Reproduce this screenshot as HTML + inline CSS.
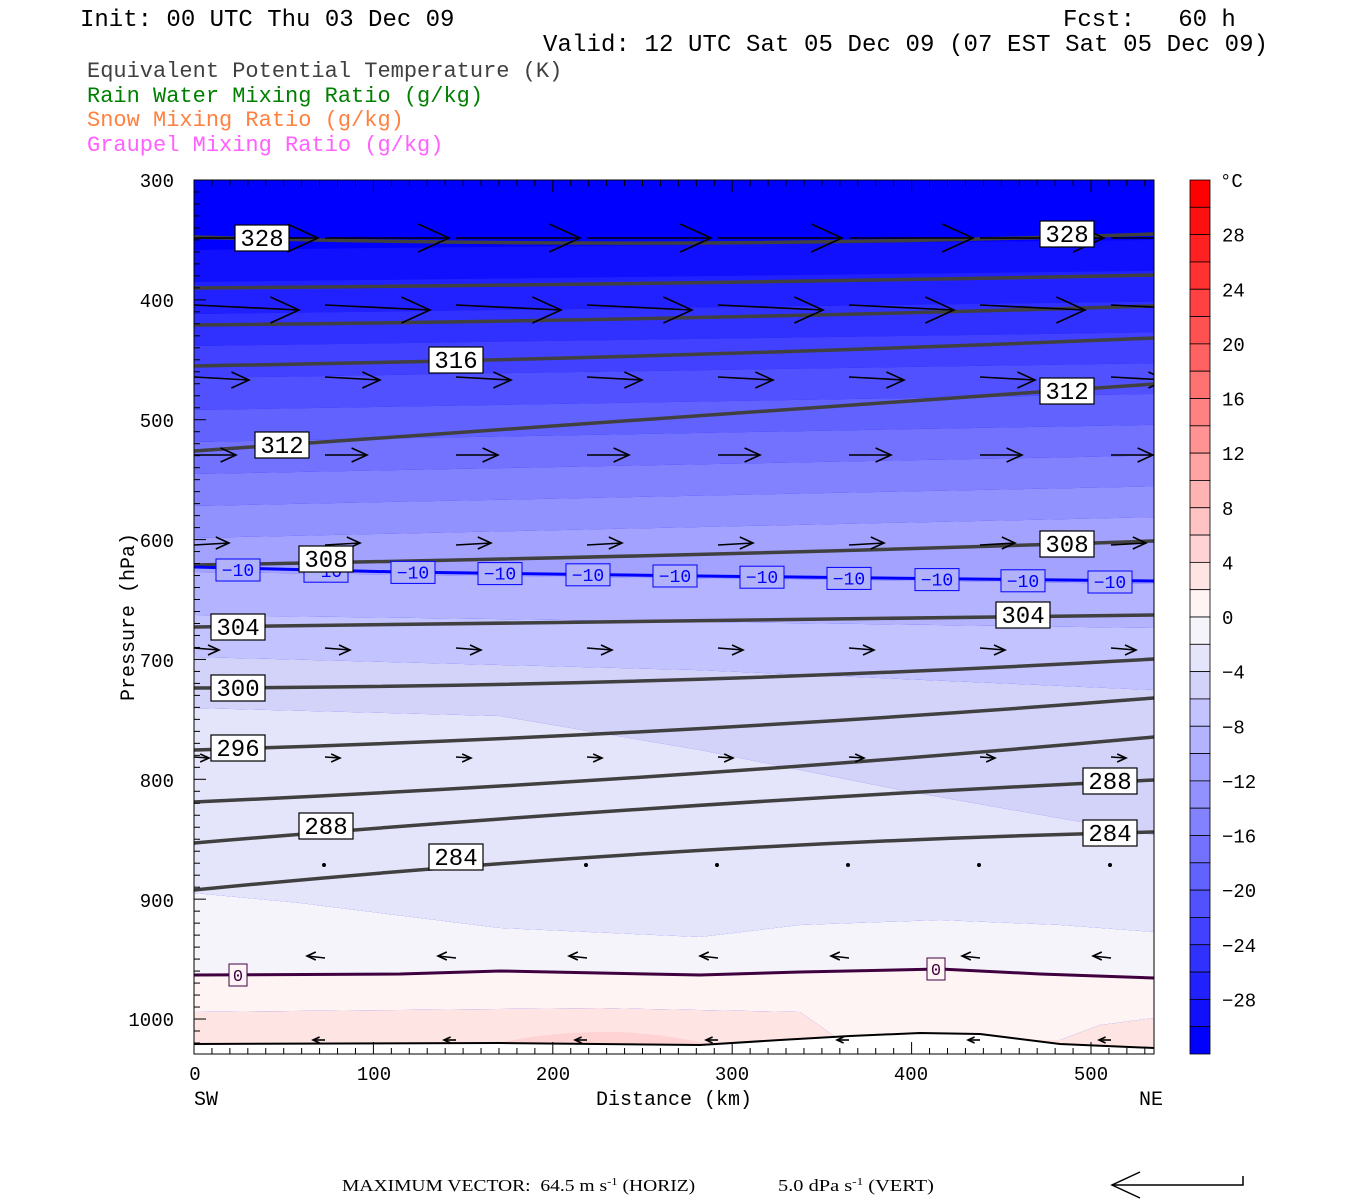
<!DOCTYPE html>
<html><head><meta charset="utf-8"><style>
html,body{margin:0;padding:0;background:#fff;width:1350px;height:1200px;overflow:hidden}
svg text{font-family:"Liberation Mono",monospace;white-space:pre}
</style></head><body>
<svg id="s" xmlns="http://www.w3.org/2000/svg" width="1350" height="1200" viewBox="0 0 1350 1200">
<defs><clipPath id="cp"><rect x="194" y="180" width="960" height="874"/></clipPath></defs>
<rect width="1350" height="1200" fill="#fff"/>
<g id="bands" clip-path="url(#cp)"></g>
<g id="lines" clip-path="url(#cp)" fill="none"></g>
<g id="arrows" clip-path="url(#cp)" stroke="#000" fill="none" stroke-width="1.6"></g>
<g id="labels"></g>
<g id="axes" stroke="#000" stroke-width="1"></g>
<g id="cb"></g>
<g font-size="24" fill="#000">
<text x="80" y="26">Init: 00 UTC Thu 03 Dec 09</text>
<text x="1063" y="26">Fcst:&#160;&#160;&#160;60 h</text>
<text x="543" y="51" textLength="725">Valid: 12 UTC Sat 05 Dec 09 (07 EST Sat 05 Dec 09)</text>
</g>
<g font-size="22">
<text x="87" y="77" fill="#404040">Equivalent Potential Temperature (K)</text>
<text x="87" y="102" fill="#008000">Rain Water Mixing Ratio (g/kg)</text>
<text x="87" y="126" fill="#ff8040">Snow Mixing Ratio (g/kg)</text>
<text x="87" y="151" fill="#ff60ff">Graupel Mixing Ratio (g/kg)</text>
</g>
<g font-size="19" fill="#000" text-anchor="end">
<text x="174" y="187">300</text><text x="174" y="307">400</text><text x="174" y="427">500</text>
<text x="174" y="547">600</text><text x="174" y="667">700</text><text x="174" y="787">800</text>
<text x="174" y="907">900</text><text x="174" y="1026">1000</text>
</g>
<text font-size="20" transform="translate(134,617) rotate(-90)" text-anchor="middle">Pressure (hPa)</text>
<g font-size="19" text-anchor="middle">
<text x="195" y="1080">0</text><text x="374" y="1080">100</text><text x="553" y="1080">200</text>
<text x="732" y="1080">300</text><text x="911" y="1080">400</text><text x="1091" y="1080">500</text>
</g>
<text x="194" y="1105" font-size="20">SW</text>
<text x="1139" y="1105" font-size="20">NE</text>
<text x="674" y="1105" font-size="20" text-anchor="middle">Distance (km)</text>
<g font-size="17">
<text transform="translate(342,1191) scale(1.15,1)" style="font-family:'Liberation Serif',serif">MAXIMUM VECTOR:  64.5 m s<tspan dy="-6" font-size="11">-1</tspan><tspan dy="6"> (HORIZ)</tspan></text>
<text transform="translate(778,1191) scale(1.2,1)" style="font-family:'Liberation Serif',serif">5.0 dPa s<tspan dy="-6" font-size="11">-1</tspan><tspan dy="6"> (VERT)</tspan></text>
</g>
<g stroke="#000" stroke-width="1.5" fill="none">
<path d="M1112,1185 L1243,1185 L1243,1176"/><path d="M1140,1172 L1112,1185 L1140,1198"/>
</g>
</svg>
<script>
const NS="http://www.w3.org/2000/svg";
function el(p,t,a,txt){const e=document.createElementNS(NS,t);for(const k in a)e.setAttribute(k,a[k]);if(txt!=null)e.textContent=txt;document.getElementById(p).appendChild(e);return e;}
function col(T){
 if(T<0){const v=Math.max(0,Math.round(244*(T+32)/30));const b=T>=-6?250:255;return `rgb(${v},${v},${b})`;}
 const v=Math.max(0,Math.round(244-8.13*T));return `rgb(255,${v},${v})`;
}
const X0=194,X1=1154;
let B=[];
const up=[-30,-28,-26,-24,-22,-20,-18,-16,-14,-12];
up.forEach((T,i)=>{const yl=250+i*32;B.push({T,pts:[[X0,yl],[X1,yl-10-i*1.2]]});});
B.push({T:-10,pts:[[X0,572],[X1,584]]});
B.push({T:-8,pts:[[X0,615],[X1,628]]});
B.push({T:-6,pts:[[X0,657],[694,670],[X1,690]]});
B.push({T:-4,pts:[[X0,708],[500,716],[700,750],[900,790],[X1,835]]});
B.push({T:-2,pts:[[X0,893],[300,903],[500,928],[700,937],[800,925],[940,920],[1060,925],[X1,932]]});
B.push({T:0,pts:[[X0,975],[400,973],[500,971],[700,975],[800,972],[940,969],[1040,974],[X1,978]]});
B.push({T:2,pts:[[X0,1012],[400,1010],[600,1008],[800,1012],[840,1040],[1060,1040],[1100,1025],[X1,1018]]});
B.push({T:4,pts:[[X0,1070],[X1,1070]]});
el("bands","rect",{x:X0,y:180,width:960,height:874,fill:"rgb(0,0,255)"});
for(let i=0;i<B.length-1;i++){
 const a=B[i].pts,b=B[i+1].pts.slice().reverse();
 const d="M"+a.map(p=>p.join(",")).join(" L")+" L"+b.map(p=>p.join(",")).join(" L")+"Z";
 el("bands","path",{d,fill:col(B[i].T)});
}
el("bands","path",{d:"M440,1060 Q520,1030 620,1032 Q700,1036 760,1060Z",fill:col(4)});
const terr="M194,1044 L500,1043 L700,1045 L780,1040 L850,1036 L920,1033 L980,1034 L1060,1044 L1154,1048";
el("bands","path",{d:terr+" L1154,1060 L194,1060Z",fill:"#fff"});
el("bands","path",{d:terr,fill:"none",stroke:"#000","stroke-width":2});
const L=[[237,243,234],[288,283,275],[325,318,306],[366,355,338],[451,418,384],[565,555,541],[627,622,615],[688,680,659],[750,730,698],[802,775,737],[843,807,780],[890,852,832]];
L.forEach(l=>el("lines","path",{d:`M194,${l[0]} Q674,${l[1]*2-(l[0]+l[2])/2} 1154,${l[2]}`,stroke:"#404040","stroke-width":3.5}));
el("lines","path",{d:"M194,567 L400,572 L700,576 L1154,581",stroke:"#0000ff","stroke-width":3});
el("lines","path",{d:"M194,975 L400,974 L500,971 L700,975 L800,972 L940,969 L1040,974 L1154,978",stroke:"#400040","stroke-width":3});
const cols=[194,325,456,587,718,849,980,1111];
const rows=[[238,124,0,14],[305,105,5,13],[377,55,3,8],[455,42,0,7],[545,35,-2,6],[648,25,2,5],[757,15,1,4],[958,-18,-2,4],[1040,-12,0,3]];
rows.forEach(r=>cols.forEach(x=>{
 const x2=x+r[1],y2=r[0]+r[2];
 el("arrows","line",{x1:x,y1:r[0],x2,y2});
 const dir=Math.sign(r[1]),h=r[3];
 el("arrows","path",{d:`M${x2-dir*h*2.2},${y2-h} L${x2},${y2} L${x2-dir*h*2.2},${y2+h}`});
}));
cols.forEach(x=>el("arrows","circle",{cx:x+130,cy:865,r:1.2,fill:"#000"}));
[238,326,413,500,588,675,762,849,937,1023,1110].forEach((x,i)=>{const y=569+i*1.2;el("labels","rect",{x:x-22,y:y-10,width:44,height:22,fill:"rgb(178,178,250)",stroke:"#0000ff","stroke-width":1});el("labels","text",{x,y:y+7,"text-anchor":"middle","font-size":18,fill:"#0000ff"},"\u221210");});
function lab(x,y,t,c,w,fs){c=c||"#000";w=w||54;fs=fs||24;el("labels","rect",{x:x-w/2,y:y-13,width:w,height:26,fill:"#fff",stroke:c,"stroke-width":1.2});el("labels","text",{x,y:y+8,"text-anchor":"middle","font-size":fs,fill:c},t);}
lab(262,238,"328");lab(1067,234,"328");lab(456,360,"316");lab(282,445,"312");lab(1067,391,"312");
lab(326,559,"308");lab(1067,544,"308");lab(238,627,"304");lab(1023,615,"304");lab(238,688,"300");
lab(238,748,"296");lab(1110,781,"288");lab(326,826,"288");lab(456,857,"284");lab(1110,833,"284");
[[238,975],[936,969]].forEach(p=>{el("labels","rect",{x:p[0]-9,y:p[1]-11,width:18,height:22,fill:"#fff5f5",stroke:"#400040"});el("labels","text",{x:p[0],y:p[1]+6,"text-anchor":"middle","font-size":17,fill:"#400040"},"0");});
el("axes","rect",{x:194,y:180,width:960,height:874,fill:"none"});
for(let p=300;p<=1020;p+=10){const y=180+(p-300)*1.1986;const big=p%100==0;el("axes","line",{x1:194,y1:y,x2:194+(big?12:6),y2:y});}
for(let k=0;k<=535;k+=10){const x=194+k*1.794;const big=k%100==0;el("axes","line",{x1:x,y1:180,x2:x,y2:180+(big?12:6)});el("axes","line",{x1:x,y1:1054,x2:x,y2:1054-(big?12:6)});}
const h=874/32;
for(let i=0;i<32;i++){const T=30-2*i;el("cb","rect",{x:1190,y:180+i*h,width:20,height:h,fill:col(T),stroke:"#000","stroke-width":0.8});}
el("cb","text",{x:1220,y:187,"font-size":19},"\u00b0C");
for(let T=28;T>=-28;T-=4){const y=180+(32-T)*h/2+7;el("cb","text",{x:1222,y,"font-size":19},T<0?"\u2212"+(-T):""+T);}
</script>
</body></html>
